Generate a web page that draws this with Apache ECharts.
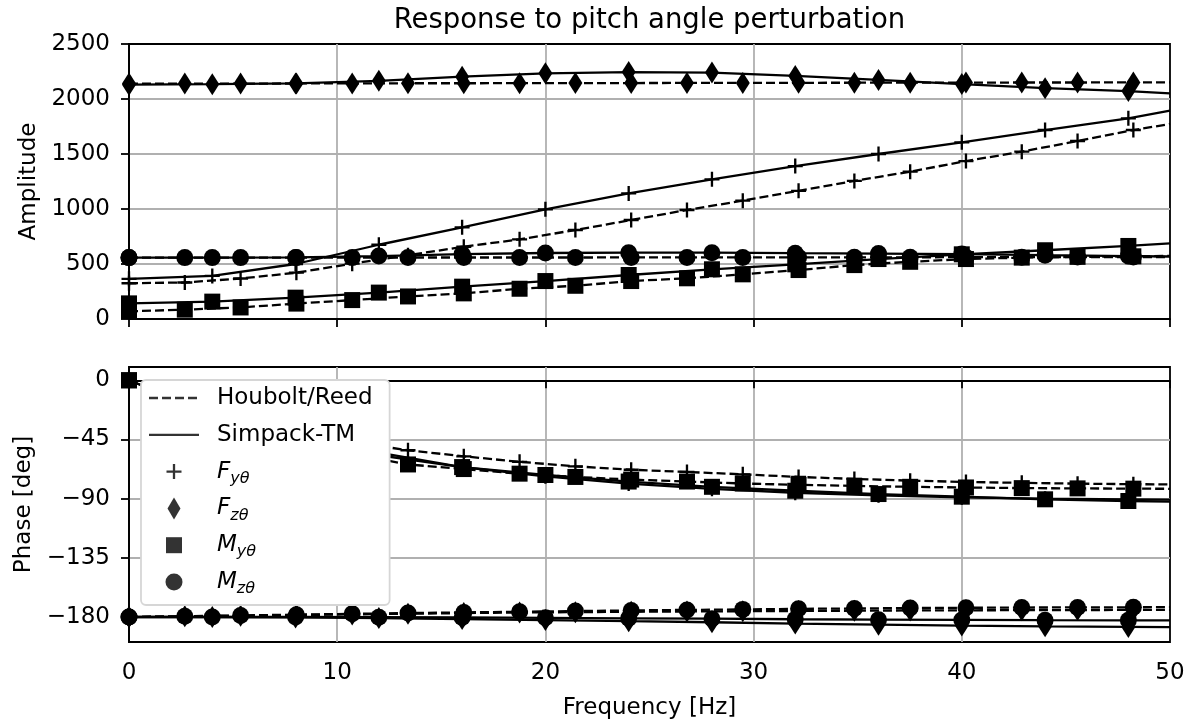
<!DOCTYPE html>
<html><head><meta charset="utf-8">
<script src="https://cdn.jsdelivr.net/npm/echarts@6/dist/echarts.min.js"></script>
<style>html,body{margin:0;padding:0;background:#fff}#c{width:1194px;height:722px}</style>
</head><body><div id="c"></div><script>
// Frequencies [Hz]
const freqHR = [0, 2.68, 5.36, 8.04, 10.72, 13.4, 16.08, 18.76, 21.44, 24.12, 26.8, 29.48, 32.16, 34.84, 37.52, 40.2, 42.88, 45.56, 48.24, 50];
const freqTM = [0, 4, 8, 12, 16, 20, 24, 28, 32, 36, 40, 44, 48, 50];

// Amplitude
const ampFyHR = [325, 332, 368, 421, 503, 580, 657, 724, 809, 900, 991, 1076, 1165, 1255, 1339, 1436, 1521, 1618, 1718, 1773];
const ampFyTM = [365, 392, 500, 675, 833, 997, 1142, 1270, 1390, 1500, 1606, 1718, 1824, 1894];
const ampFzHR = [2140, 2140, 2140, 2141, 2142, 2143, 2143, 2144, 2145, 2145, 2146, 2146, 2147, 2148, 2148, 2149, 2150, 2150, 2151, 2152];
const ampFzTM = [2130, 2135, 2142, 2165, 2203, 2233, 2245, 2240, 2210, 2173, 2136, 2098, 2072, 2052];
const ampMyHR = [70, 85, 105, 140, 172, 205, 233, 275, 302, 345, 370, 406, 445, 490, 520, 545, 558, 565, 570, 574];
const ampMyTM = [142, 158, 194, 240, 294, 345, 400, 452, 497, 545, 588, 625, 664, 688];
const ampMzHR = [558, 558, 558, 558, 558, 559, 559, 559, 559, 560, 560, 560, 561, 561, 561, 562, 562, 563, 563, 564];
const ampMzTM = [558, 558, 560, 572, 590, 600, 603, 603, 598, 595, 590, 580, 572, 568];

// Phase [deg]
const phFyHR = [0, -16, -29, -39, -47, -53.2, -57.8, -62, -65.4, -68, -69.7, -71.5, -73.5, -75, -76.3, -77.3, -78, -78.6, -79, -79.2];
const phFyTM = [0, -25, -43, -55, -66, -73, -78.5, -82.5, -85.5, -87.5, -89, -90, -90.5, -90.8];
const phFzHR = [-180, -179.5, -179, -178.5, -178, -177.5, -177, -176.6, -176.3, -176, -175.8, -175.6, -175.4, -175.2, -175, -174.9, -174.8, -174.7, -174.6, -174.5];
const phFzTM = [-180, -180, -180.3, -180.8, -181.5, -182.3, -183.2, -184, -185, -185.8, -186.5, -187.1, -187.5, -187.7];
const phMyHR = [0, -18, -33, -45, -56, -64, -67.5, -71, -73.5, -75.5, -77, -78.5, -79.5, -80.3, -81, -81.5, -82, -82.2, -82.4, -82.5];
const phMyTM = [0, -26, -45, -57, -66, -72, -77, -81, -84, -86.5, -88.5, -90.5, -91.8, -92.3];
const phMzHR = [-180, -179.4, -178.8, -178.2, -177.6, -177, -176.5, -176, -175.5, -175, -174.6, -174.2, -173.8, -173.5, -173.2, -173, -172.8, -172.7, -172.6, -172.5];
const phMzTM = [-180, -180, -180, -180.1, -180.3, -180.6, -181, -181.3, -181.7, -182, -182.2, -182.4, -182.5, -182.5];

// Tick labels
const ampTicks = [0, 500, 1000, 1500, 2000, 2500];
const phaseTicks = [0, -45, -90, -135, -180];
const freqTicks = [0, 10, 20, 30, 40, 50];

const FONT = 'DejaVu Sans';
const SYM = {
  Fy: {symbol: 'path://M-0.155,-1H0.155V-0.155H1V0.155H0.155V1H-0.155V0.155H-1V-0.155H-0.155Z', size: 15},
  Fz: {symbol: 'diamond', size: [14, 22]},
  My: {symbol: 'rect', size: 16},
  Mz: {symbol: 'circle', size: 17}
};
const PAD = 'path://M0,0M63,30';
const ICON = {
  'Houbolt/Reed': PAD + 'M0,13.85h9v2.3h-9zM13,13.85h9v2.3h-9zM26,13.85h9v2.3h-9zM39,13.85h9v2.3h-9z',
  'Simpack-TM': PAD + 'M0,13.85h50v2.3h-50z',
  'Fy': PAD + 'M23.85,7.5H26.15V13.85H32.5V16.15H26.15V22.5H23.85V16.15H17.5V13.85H23.85Z',
  'Fz': PAD + 'M25,4L31.5,15L25,26L18.5,15Z',
  'My': PAD + 'M17,7H33V23H17Z',
  'Mz': PAD + 'M16.5,15A8.5,8.5 0 1,0 33.5,15A8.5,8.5 0 1,0 16.5,15Z'
};
const LABELS = {
  'Houbolt/Reed': 'Houbolt/Reed', 'Simpack-TM': 'Simpack-TM',
  'Fy': '{i|F}{s|yθ}', 'Fz': '{i|F}{s|zθ}', 'My': '{i|M}{s|yθ}', 'Mz': '{i|M}{s|zθ}'
};

function mk(key, method, freqs, vals, idx) {
  const n = freqs.length;
  return {
    type: 'line', name: key + method + idx, xAxisIndex: idx, yAxisIndex: idx,
    data: freqs.map((f, i) => i === n - 1 ? {value: [f, vals[i]], symbol: 'none'} : [f, vals[i]]),
    symbol: SYM[key].symbol, symbolSize: SYM[key].size, symbolKeepAspect: true, showAllSymbol: true,
    lineStyle: {color: '#000', width: 2.3, type: method === 'HR' ? [9, 4] : 'solid'},
    itemStyle: {color: '#000', borderWidth: 0},
    emphasis: {disabled: true}, silent: true, animation: false, z: 2
  };
}

const series = [
  mk('Fy', 'HR', freqHR, ampFyHR, 0), mk('Fy', 'TM', freqTM, ampFyTM, 0),
  mk('Fz', 'HR', freqHR, ampFzHR, 0), mk('Fz', 'TM', freqTM, ampFzTM, 0),
  mk('My', 'HR', freqHR, ampMyHR, 0), mk('My', 'TM', freqTM, ampMyTM, 0),
  mk('Mz', 'HR', freqHR, ampMzHR, 0), mk('Mz', 'TM', freqTM, ampMzTM, 0),
  mk('Fy', 'HR', freqHR, phFyHR, 1), mk('Fy', 'TM', freqTM, phFyTM, 1),
  mk('Fz', 'HR', freqHR, phFzHR, 1), mk('Fz', 'TM', freqTM, phFzTM, 1),
  mk('My', 'HR', freqHR, phMyHR, 1), mk('My', 'TM', freqTM, phMyTM, 1),
  mk('Mz', 'HR', freqHR, phMzHR, 1), mk('Mz', 'TM', freqTM, phMzTM, 1)
];
Object.keys(ICON).forEach(name => series.push({
  type: 'scatter', name: name, xAxisIndex: 1, yAxisIndex: 1, data: [],
  itemStyle: {color: '#000', borderWidth: 0}, silent: true
}));

const axisCommon = {
  axisLine: {lineStyle: {color: '#000', width: 1.8}},
  axisTick: {inside: false, length: 8, lineStyle: {color: '#000', width: 1.8}},
  splitLine: {show: true, showMinLine: false, showMaxLine: false, lineStyle: {color: '#b0b0b0', width: 1.8}},
  axisLabel: {color: '#000', fontFamily: FONT, fontSize: 23}
};
const minus = v => String(v).replace('-', '\u2212');

function xAx(idx, showLabel) {
  return Object.assign({}, axisCommon, {
    type: 'value', gridIndex: idx, min: freqTicks[0], max: freqTicks[freqTicks.length - 1], interval: 10,
    axisLabel: Object.assign({}, axisCommon.axisLabel, {show: showLabel, margin: 20, formatter: v => String(v)}),
    name: showLabel ? 'Frequency [Hz]' : '', nameLocation: 'middle', nameGap: 55,
    nameTextStyle: {color: '#000', fontFamily: FONT, fontSize: 23}
  });
}

const option = {
  animation: false,
  backgroundColor: '#fff',
  title: {
    text: 'Response to pitch angle perturbation', left: 644.5, top: 2, textAlign: 'center',
    textStyle: {color: '#000', fontFamily: FONT, fontSize: 27.5, fontWeight: 'normal'}
  },
  grid: [
    {left: 129, right: 24, top: 44, height: 275, show: true, borderColor: '#000', borderWidth: 1.8, backgroundColor: 'transparent'},
    {left: 129, right: 24, top: 367, height: 275, show: true, borderColor: '#000', borderWidth: 1.8, backgroundColor: 'transparent'}
  ],
  xAxis: [xAx(0, false), xAx(1, true)],
  yAxis: [
    Object.assign({}, axisCommon, {
      type: 'value', gridIndex: 0, min: ampTicks[0], max: ampTicks[ampTicks.length - 1], interval: 500,
      axisLabel: Object.assign({}, axisCommon.axisLabel, {margin: 19, formatter: v => String(v)}),
      name: 'Amplitude', nameLocation: 'middle', nameGap: 87,
      nameTextStyle: {color: '#000', fontFamily: FONT, fontSize: 23}
    }),
    Object.assign({}, axisCommon, {
      type: 'value', gridIndex: 1, min: -199, max: 10.1,
      axisTick: Object.assign({}, axisCommon.axisTick, {customValues: phaseTicks}),
      axisLabel: Object.assign({}, axisCommon.axisLabel, {margin: 19, customValues: phaseTicks, formatter: minus}),
      name: 'Phase [deg]', nameLocation: 'middle', nameGap: 92,
      nameTextStyle: {color: '#000', fontFamily: FONT, fontSize: 23}
    })
  ],
  legend: {
    show: true, orient: 'vertical', left: 141, top: 380,
    itemWidth: 63, itemHeight: 30, itemGap: 6.8, padding: [3, 17, 8, 8],
    selectedMode: false,
    data: Object.keys(ICON).map(n => ({name: n, icon: ICON[n]})),
    symbolKeepAspect: true,
    backgroundColor: '#ffffff', borderColor: '#d6d6d6', borderWidth: 1.8, borderRadius: 5,
    itemStyle: {borderWidth: 0},
    formatter: n => LABELS[n],
    textStyle: {
      color: '#000', fontFamily: FONT, fontSize: 23, lineHeight: 30,
      rich: {
        i: {fontFamily: FONT, fontStyle: 'italic', fontSize: 23, lineHeight: 30, verticalAlign: 'middle', color: '#000'},
        s: {fontFamily: FONT, fontStyle: 'italic', fontSize: 16, lineHeight: 30, verticalAlign: 'bottom', color: '#000'}
      }
    }
  },
  series: series
};

const chart = echarts.init(document.getElementById('c'), null, {renderer: 'canvas'});
chart.setOption(option);
</script></body></html>
